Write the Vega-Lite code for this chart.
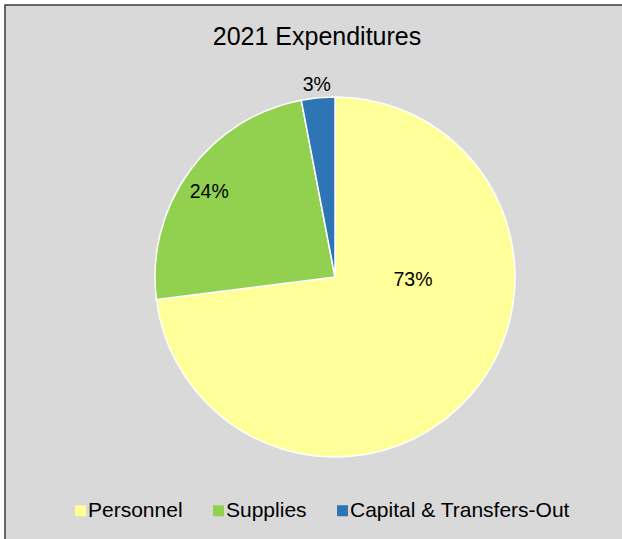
{
  "$schema": "https://vega.github.io/schema/vega-lite/v6.json",
  "width": 660,
  "height": 544,
  "autosize": {"type": "none"},
  "padding": {"left": 5, "top": 5, "right": -43, "bottom": -10},
  "background": "#ffffff",
  "view": {"fill": "#d9d9d9", "stroke": "#3a3a3a", "strokeWidth": 1.5},
  "config": {
    "font": "Liberation Sans"
  },
  "title": {
    "text": "2021 Expenditures",
    "fontSize": 25,
    "fontWeight": "normal",
    "color": "#000000",
    "font": "Liberation Sans",
    "anchor": "middle",
    "baseline": "alphabetic",
    "offset": -65,
    "dx": -18
  },
  "data": {
    "values": [
      {"category": "Personnel", "share": 73, "label": "73%", "rank": 1},
      {"category": "Supplies", "share": 24, "label": "24%", "rank": 2},
      {"category": "Capital & Transfers-Out", "share": 3, "label": "3%", "rank": 3}
    ]
  },
  "encoding": {
    "theta": {"field": "share", "type": "quantitative", "stack": true},
    "order": {"field": "rank", "type": "quantitative"}
  },
  "layer": [
    {
      "mark": {"type": "arc", "outerRadius": 180, "stroke": "#ffffff", "strokeWidth": 1.5},
      "encoding": {
        "color": {
          "field": "category",
          "type": "nominal",
          "scale": {
            "domain": ["Personnel", "Supplies", "Capital & Transfers-Out"],
            "range": ["#ffff99", "#92d050", "#2e75b6"]
          },
          "legend": {
            "orient": "none",
            "legendX": 65,
            "legendY": 495,
            "direction": "horizontal",
            "title": null,
            "symbolType": "square",
            "symbolSize": 121,
            "symbolStrokeWidth": 0,
            "symbolOpacity": 1,
            "labelFontSize": 21,
            "labelFont": "Liberation Sans",
            "labelColor": "#000000",
            "labelOffset": -3,
            "columnPadding": 25,
            "padding": 0,
            "labelLimit": 0
          }
        }
      }
    },
    {
      "mark": {"type": "text", "radius": 0, "dx": 78, "dy": 3, "fontSize": 19.5, "color": "#000000", "baseline": "middle", "align": "center"},
      "encoding": {
        "text": {"condition": {"test": "datum.category === 'Personnel'", "field": "label", "type": "nominal"}, "value": ""}
      }
    },
    {
      "mark": {"type": "text", "radius": 153, "dx": -2, "dy": 5, "fontSize": 19.5, "color": "#000000", "baseline": "middle", "align": "center"},
      "encoding": {
        "text": {"condition": {"test": "datum.category === 'Supplies'", "field": "label", "type": "nominal"}, "value": ""}
      }
    },
    {
      "mark": {"type": "text", "radius": 193, "fontSize": 19.5, "color": "#000000", "baseline": "middle", "align": "center"},
      "encoding": {
        "text": {"condition": {"test": "datum.category === 'Capital & Transfers-Out'", "field": "label", "type": "nominal"}, "value": ""}
      }
    }
  ]
}
